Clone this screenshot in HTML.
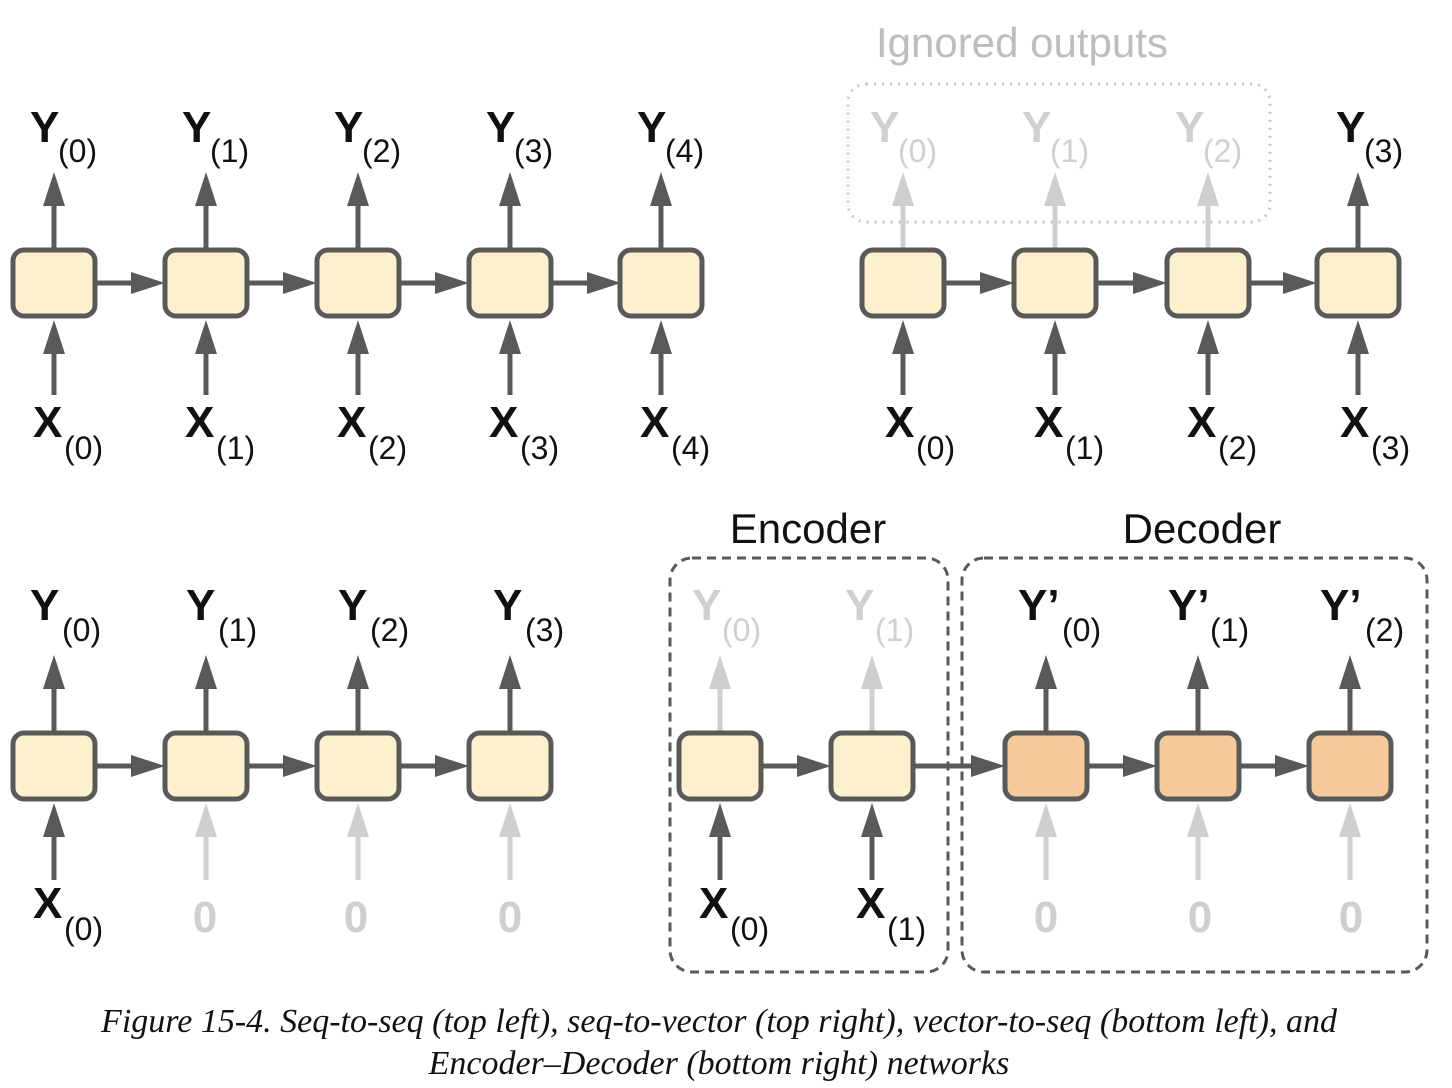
<!DOCTYPE html>
<html><head><meta charset="utf-8"><style>
html,body{margin:0;padding:0;background:#fff;}
svg{display:block}
.Y{font:bold 44px "Liberation Sans",sans-serif}
.s{font:32px "Liberation Sans",sans-serif}
.cap{font:italic 34px "Liberation Serif",serif}
</style></head><body>
<svg width="1452" height="1088" viewBox="0 0 1452 1088" xmlns="http://www.w3.org/2000/svg">
<defs>
<polygon id="hu" points="0,0 -11,34 11,34"/>
<polygon id="hr" points="0,0 -34,-11 -34,11"/>
<rect id="bx" x="-41" y="-33" width="82" height="66" rx="11" stroke="#595959" stroke-width="5"/>
</defs>

<!-- ===== TOP LEFT ===== -->
<g stroke="#595959" stroke-width="5">
<line x1="54" y1="205" x2="54" y2="249"/><line x1="206" y1="205" x2="206" y2="249"/><line x1="358" y1="205" x2="358" y2="249"/><line x1="510" y1="205" x2="510" y2="249"/><line x1="661" y1="205" x2="661" y2="249"/>
<line x1="54" y1="350" x2="54" y2="395"/><line x1="206" y1="350" x2="206" y2="395"/><line x1="358" y1="350" x2="358" y2="395"/><line x1="510" y1="350" x2="510" y2="395"/><line x1="661" y1="350" x2="661" y2="395"/>
<line x1="95" y1="283" x2="135" y2="283"/><line x1="247" y1="283" x2="287" y2="283"/><line x1="399" y1="283" x2="439" y2="283"/><line x1="551" y1="283" x2="591" y2="283"/>
</g>
<g fill="#595959">
<use href="#hu" x="54" y="172"/><use href="#hu" x="206" y="172"/><use href="#hu" x="358" y="172"/><use href="#hu" x="510" y="172"/><use href="#hu" x="661" y="172"/>
<use href="#hu" x="54" y="320"/><use href="#hu" x="206" y="320"/><use href="#hu" x="358" y="320"/><use href="#hu" x="510" y="320"/><use href="#hu" x="661" y="320"/>
<use href="#hr" x="165" y="283"/><use href="#hr" x="317" y="283"/><use href="#hr" x="469" y="283"/><use href="#hr" x="621" y="283"/>
</g>
<g fill="#fdf0cc">
<use href="#bx" x="54" y="283"/><use href="#bx" x="206" y="283"/><use href="#bx" x="358" y="283"/><use href="#bx" x="510" y="283"/><use href="#bx" x="661" y="283"/>
</g>
<g fill="#111">
<text class="Y" x="30" y="142">Y</text><text class="s" x="58" y="162">(0)</text>
<text class="Y" x="182" y="142">Y</text><text class="s" x="210" y="162">(1)</text>
<text class="Y" x="334" y="142">Y</text><text class="s" x="362" y="162">(2)</text>
<text class="Y" x="486" y="142">Y</text><text class="s" x="514" y="162">(3)</text>
<text class="Y" x="637" y="142">Y</text><text class="s" x="665" y="162">(4)</text>
<text class="Y" x="33" y="437">X</text><text class="s" x="64" y="459">(0)</text>
<text class="Y" x="185" y="437">X</text><text class="s" x="216" y="459">(1)</text>
<text class="Y" x="337" y="437">X</text><text class="s" x="368" y="459">(2)</text>
<text class="Y" x="489" y="437">X</text><text class="s" x="520" y="459">(3)</text>
<text class="Y" x="640" y="437">X</text><text class="s" x="671" y="459">(4)</text>
</g>

<!-- ===== TOP RIGHT ===== -->
<text x="876" y="57" font-family="Liberation Sans,sans-serif" font-size="42" fill="#bdbdbd">Ignored outputs</text>
<rect x="848" y="84" width="422" height="138" rx="18" fill="none" stroke="#c8c8c8" stroke-width="3" stroke-dasharray="2,6"/>
<g stroke="#cfcfcf" stroke-width="5">
<line x1="903" y1="205" x2="903" y2="249"/><line x1="1055" y1="205" x2="1055" y2="249"/><line x1="1208" y1="205" x2="1208" y2="249"/>
</g>
<g fill="#cfcfcf"><use href="#hu" x="903" y="172"/><use href="#hu" x="1055" y="172"/><use href="#hu" x="1208" y="172"/></g>
<g stroke="#595959" stroke-width="5">
<line x1="1358" y1="205" x2="1358" y2="249"/>
<line x1="903" y1="350" x2="903" y2="395"/><line x1="1055" y1="350" x2="1055" y2="395"/><line x1="1208" y1="350" x2="1208" y2="395"/><line x1="1358" y1="350" x2="1358" y2="395"/>
<line x1="944" y1="283" x2="984" y2="283"/><line x1="1096" y1="283" x2="1136" y2="283"/><line x1="1249" y1="283" x2="1287" y2="283"/>
</g>
<g fill="#595959">
<use href="#hu" x="1358" y="172"/>
<use href="#hu" x="903" y="320"/><use href="#hu" x="1055" y="320"/><use href="#hu" x="1208" y="320"/><use href="#hu" x="1358" y="320"/>
<use href="#hr" x="1014" y="283"/><use href="#hr" x="1167" y="283"/><use href="#hr" x="1317" y="283"/>
</g>
<g fill="#fdf0cc">
<use href="#bx" x="903" y="283"/><use href="#bx" x="1055" y="283"/><use href="#bx" x="1208" y="283"/><use href="#bx" x="1358" y="283"/>
</g>
<g fill="#d0d0d0">
<text class="Y" x="870" y="142">Y</text><text class="s" x="898" y="162">(0)</text>
<text class="Y" x="1022" y="142">Y</text><text class="s" x="1050" y="162">(1)</text>
<text class="Y" x="1175" y="142">Y</text><text class="s" x="1203" y="162">(2)</text>
</g>
<g fill="#111">
<text class="Y" x="1336" y="142">Y</text><text class="s" x="1364" y="162">(3)</text>
<text class="Y" x="885" y="437">X</text><text class="s" x="916" y="459">(0)</text>
<text class="Y" x="1034" y="437">X</text><text class="s" x="1065" y="459">(1)</text>
<text class="Y" x="1187" y="437">X</text><text class="s" x="1218" y="459">(2)</text>
<text class="Y" x="1340" y="437">X</text><text class="s" x="1371" y="459">(3)</text>
</g>

<!-- ===== BOTTOM LEFT ===== -->
<g stroke="#595959" stroke-width="5">
<line x1="54" y1="688" x2="54" y2="733"/><line x1="206" y1="688" x2="206" y2="733"/><line x1="358" y1="688" x2="358" y2="733"/><line x1="510" y1="688" x2="510" y2="733"/>
<line x1="54" y1="835" x2="54" y2="880"/>
<line x1="95" y1="766" x2="135" y2="766"/><line x1="247" y1="766" x2="287" y2="766"/><line x1="399" y1="766" x2="439" y2="766"/>
</g>
<g stroke="#cfcfcf" stroke-width="5">
<line x1="206" y1="835" x2="206" y2="880"/><line x1="358" y1="835" x2="358" y2="880"/><line x1="510" y1="835" x2="510" y2="880"/>
</g>
<g fill="#595959">
<use href="#hu" x="54" y="655"/><use href="#hu" x="206" y="655"/><use href="#hu" x="358" y="655"/><use href="#hu" x="510" y="655"/>
<use href="#hu" x="54" y="803"/>
<use href="#hr" x="165" y="766"/><use href="#hr" x="317" y="766"/><use href="#hr" x="469" y="766"/>
</g>
<g fill="#cfcfcf"><use href="#hu" x="206" y="803"/><use href="#hu" x="358" y="803"/><use href="#hu" x="510" y="803"/></g>
<g fill="#fdf0cc">
<use href="#bx" x="54" y="766"/><use href="#bx" x="206" y="766"/><use href="#bx" x="358" y="766"/><use href="#bx" x="510" y="766"/>
</g>
<g fill="#111">
<text class="Y" x="30" y="620">Y</text><text class="s" x="62" y="641">(0)</text>
<text class="Y" x="186" y="620">Y</text><text class="s" x="218" y="641">(1)</text>
<text class="Y" x="338" y="620">Y</text><text class="s" x="370" y="641">(2)</text>
<text class="Y" x="493" y="620">Y</text><text class="s" x="525" y="641">(3)</text>
<text class="Y" x="33" y="918">X</text><text class="s" x="64" y="940">(0)</text>
</g>
<g fill="#cfcfcf" class="Y" text-anchor="middle">
<text x="205" y="932">0</text><text x="356" y="932">0</text><text x="510" y="932">0</text>
</g>

<!-- ===== BOTTOM RIGHT ===== -->
<text x="808" y="543" text-anchor="middle" font-family="Liberation Sans,sans-serif" font-size="42" fill="#111">Encoder</text>
<text x="1202" y="543" text-anchor="middle" font-family="Liberation Sans,sans-serif" font-size="42" fill="#111">Decoder</text>
<rect x="670" y="558" width="278" height="414" rx="22" fill="none" stroke="#595959" stroke-width="3" stroke-dasharray="9,6"/>
<rect x="962" y="558" width="465" height="414" rx="22" fill="none" stroke="#595959" stroke-width="3" stroke-dasharray="9,6"/>
<g stroke="#cfcfcf" stroke-width="5">
<line x1="720" y1="688" x2="720" y2="733"/><line x1="872" y1="688" x2="872" y2="733"/>
<line x1="1046" y1="835" x2="1046" y2="880"/><line x1="1198" y1="835" x2="1198" y2="880"/><line x1="1350" y1="835" x2="1350" y2="880"/>
</g>
<g fill="#cfcfcf">
<use href="#hu" x="720" y="655"/><use href="#hu" x="872" y="655"/>
<use href="#hu" x="1046" y="803"/><use href="#hu" x="1198" y="803"/><use href="#hu" x="1350" y="803"/>
</g>
<g stroke="#595959" stroke-width="5">
<line x1="720" y1="835" x2="720" y2="880"/><line x1="872" y1="835" x2="872" y2="880"/>
<line x1="1046" y1="688" x2="1046" y2="733"/><line x1="1198" y1="688" x2="1198" y2="733"/><line x1="1350" y1="688" x2="1350" y2="733"/>
<line x1="761" y1="766" x2="801" y2="766"/><line x1="913" y1="766" x2="975" y2="766"/>
<line x1="1087" y1="766" x2="1127" y2="766"/><line x1="1239" y1="766" x2="1279" y2="766"/>
</g>
<g fill="#595959">
<use href="#hu" x="720" y="803"/><use href="#hu" x="872" y="803"/>
<use href="#hu" x="1046" y="655"/><use href="#hu" x="1198" y="655"/><use href="#hu" x="1350" y="655"/>
<use href="#hr" x="831" y="766"/><use href="#hr" x="1005" y="766"/><use href="#hr" x="1157" y="766"/><use href="#hr" x="1309" y="766"/>
</g>
<g fill="#fdf0cc"><use href="#bx" x="720" y="766"/><use href="#bx" x="872" y="766"/></g>
<g fill="#f5c999"><use href="#bx" x="1046" y="766"/><use href="#bx" x="1198" y="766"/><use href="#bx" x="1350" y="766"/></g>
<g fill="#d0d0d0">
<text class="Y" x="692" y="620">Y</text><text class="s" x="722" y="641">(0)</text>
<text class="Y" x="845" y="620">Y</text><text class="s" x="875" y="641">(1)</text>
</g>
<g fill="#111">
<text class="Y" x="1018" y="620">Y’</text><text class="s" x="1062" y="641">(0)</text>
<text class="Y" x="1168" y="620">Y’</text><text class="s" x="1210" y="641">(1)</text>
<text class="Y" x="1320" y="620">Y’</text><text class="s" x="1365" y="641">(2)</text>
<text class="Y" x="699" y="918">X</text><text class="s" x="730" y="940">(0)</text>
<text class="Y" x="856" y="918">X</text><text class="s" x="887" y="940">(1)</text>
</g>
<g fill="#cfcfcf" class="Y" text-anchor="middle">
<text x="1046" y="932">0</text><text x="1200" y="932">0</text><text x="1351" y="932">0</text>
</g>

<!-- caption -->
<text class="cap" x="719" y="1032" text-anchor="middle" fill="#111">Figure 15-4. Seq-to-seq (top left), seq-to-vector (top right), vector-to-seq (bottom left), and</text>
<text class="cap" x="719" y="1074" text-anchor="middle" fill="#111">Encoder–Decoder (bottom right) networks</text>
</svg>
</body></html>
